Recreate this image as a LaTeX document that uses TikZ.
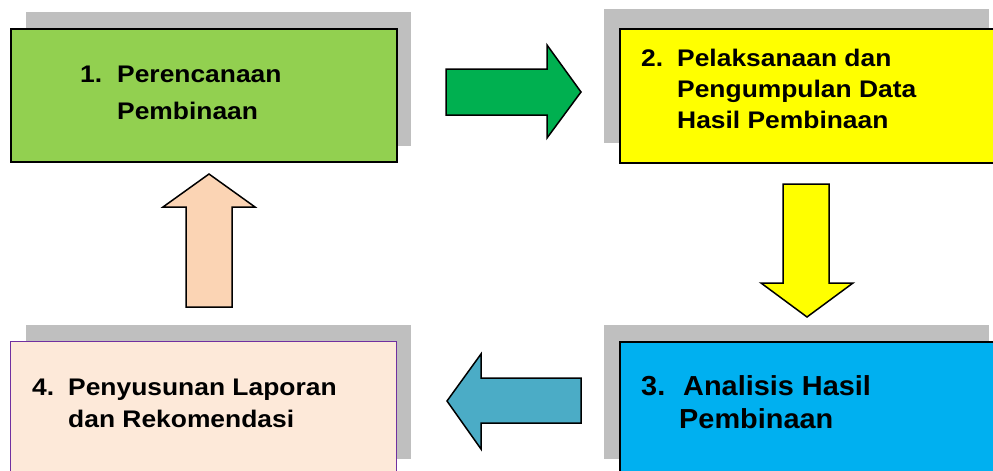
\documentclass[tikz,border=0pt]{standalone}
\usepackage{fontspec}
\newfontfamily\lblfont{Liberation Sans}[FakeStretch=1.1]
\newfontfamily\biglblfont{Liberation Sans}[FakeStretch=1.05]
\definecolor{shadowgray}{HTML}{BFBFBF}
\definecolor{boxgreen}{HTML}{92D050}
\definecolor{boxyellow}{HTML}{FFFF00}
\definecolor{boxblue}{HTML}{00B0F0}
\definecolor{boxpink}{HTML}{FDE9D9}
\definecolor{boxpurple}{HTML}{7030A0}
\definecolor{arrgreen}{HTML}{00B050}
\definecolor{arryellow}{HTML}{FFFF00}
\definecolor{arrpeach}{HTML}{FBD4B4}
\definecolor{arrblue}{HTML}{4BACC6}
\begin{document}
\begin{tikzpicture}[x=1pt,y=-1pt,
  shadowbox/.style={fill=shadowgray, draw=none},
  stepbox/.style={draw=black, line width=1.8pt, anchor=north west, inner sep=0pt,
                  minimum width=386pt, minimum height=134pt},
  lbl/.style={anchor=base west, inner sep=0pt, font=\lblfont\bfseries\fontsize{24}{28}\selectfont},
  biglbl/.style={anchor=base west, inner sep=0pt, font=\biglblfont\bfseries\fontsize{27.5}{32}\selectfont},
  blockarrow/.style={draw=black, line width=1.5pt, line join=miter}]
\useasboundingbox (0,0) rectangle (993,471);
\clip (0,0) rectangle (993,471);

% shadows
\fill[shadowbox] (26,12) rectangle (411,146);
\fill[shadowbox] (604,9) rectangle (989,143);
\fill[shadowbox] (604,325) rectangle (989,459);
\fill[shadowbox] (26,325) rectangle (411,459);

% boxes
\node[stepbox, fill=boxgreen, minimum height=133pt] (b1) at (10,28) {};
\node[stepbox, fill=boxyellow] (b2) at (619,28) {};
\node[stepbox, fill=boxblue] (b3) at (619,341) {};
\node[stepbox, fill=boxpink, draw=boxpurple, line width=1.4pt] (b4) at (10,341) {};

% arrows
\draw[blockarrow, fill=arrgreen] (446,69) -- (547,69) -- (547,45) -- (581,92) -- (547,138) -- (547,115) -- (446,115) -- cycle;
\draw[blockarrow, fill=arryellow] (783,184) -- (829,184) -- (829,283) -- (853,283) -- (807,317) -- (761,283) -- (783,283) -- cycle;
\draw[blockarrow, fill=arrpeach] (209,174) -- (255,207) -- (232,207) -- (232,307) -- (186,307) -- (186,207) -- (163,207) -- cycle;
\draw[blockarrow, fill=arrblue] (447,401) -- (481,354) -- (481,378) -- (581,378) -- (581,423) -- (481,423) -- (481,449) -- cycle;

% texts
\node[lbl] (n1) at (80,82) {1.};
\node[lbl] (t1a) at (117,82) {Perencanaan};
\node[lbl] (t1b) at (117,119) {Pembinaan};

\node[lbl] (n2) at (641,66) {2.};
\node[lbl] (t2a) at (677,66) {Pelaksanaan dan};
\node[lbl] (t2b) at (677,97) {Pengumpulan Data};
\node[lbl] (t2c) at (677,128) {Hasil Pembinaan};

\node[biglbl] (n3) at (641,395) {3.};
\node[biglbl] (t3a) at (683,395) {Analisis Hasil};
\node[biglbl] (t3b) at (679,428) {Pembinaan};

\node[lbl] (n4) at (32,395) {4.};
\node[lbl] (t4a) at (68,395) {Penyusunan Laporan};
\node[lbl] (t4b) at (68,427) {dan Rekomendasi};
\end{tikzpicture}
\end{document}
